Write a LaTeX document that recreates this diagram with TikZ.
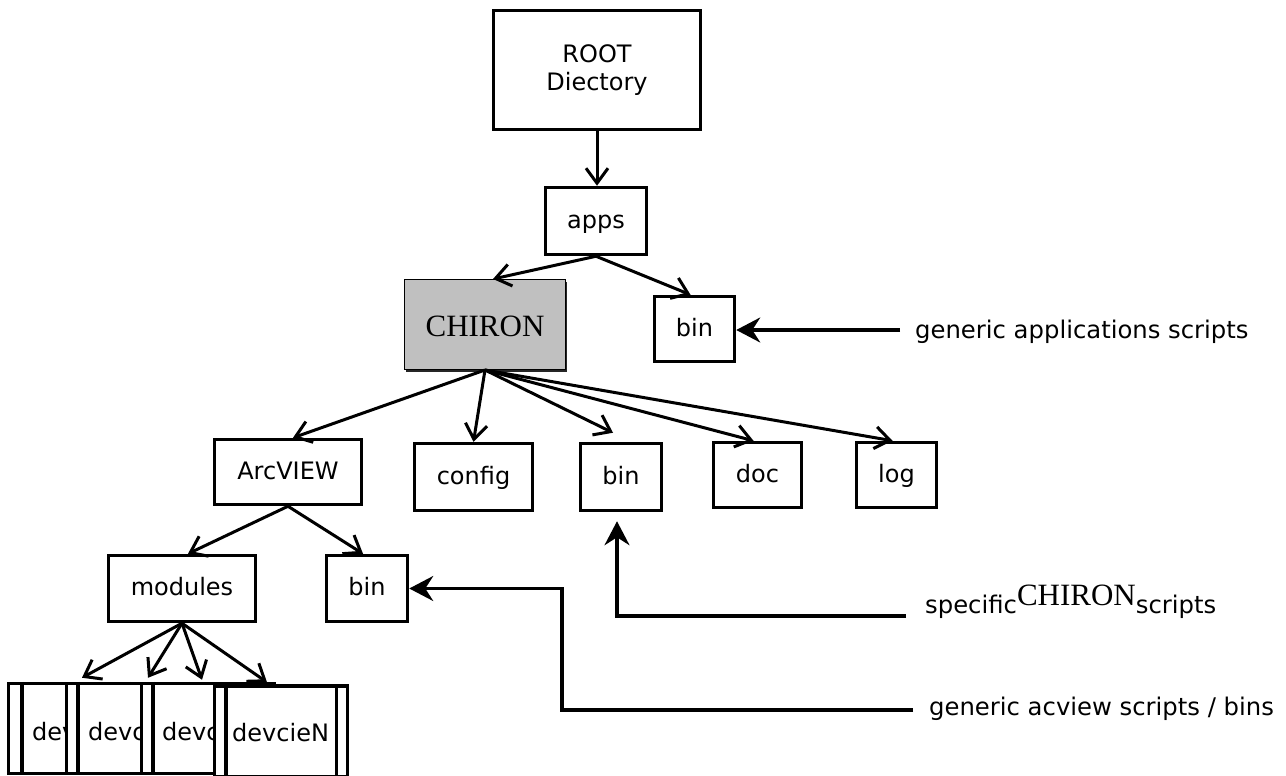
\documentclass[tikz,border=0pt]{standalone}
\usepackage{fontspec}
\setmainfont{DejaVu Sans}
\newfontfamily\serifchiron{Liberation Serif}
\usetikzlibrary{arrows.meta,shadows}
\definecolor{chirongray}{RGB}{192,192,192}
\begin{document}
\begin{tikzpicture}[x=1pt,y=-1pt,
  frame/.style={draw, line width=3.5pt, fill=white, inner sep=0pt, font=\fontsize{24}{28}\selectfont},
  box/.style={frame, text height=14pt, text depth=0pt},
  devbox/.style={frame, minimum width=133pt, minimum height=90pt},
  devtext/.style={font=\fontsize{24}{28}\selectfont, inner sep=0pt, anchor=base west},
  tree/.style={line width=3pt, line join=miter, -{Straight Barb[length=15pt,width=22pt]}},
  note/.style={line width=3.2pt, -{Stealth[length=24pt,width=25pt,inset=8pt]}},
  lbl/.style={font=\fontsize{24.3}{28}\selectfont, inner sep=0pt, anchor=base west},
  chironfont/.style={font=\serifchiron\fontsize{31}{36}\selectfont}
]
\useasboundingbox (0,0) rectangle (1286,776);

% main tree
\node[frame, minimum width=207pt, minimum height=119pt, align=center] (root) at (597,70) {ROOT\\Diectory};
\node[box, minimum width=101pt, minimum height=67pt] (apps) at (596,221) {apps};
\node[draw=black, line width=1pt, fill=chirongray, minimum width=161pt, minimum height=90pt,
      inner sep=0pt, chironfont, text height=23pt, text depth=0pt,
      drop shadow={shadow xshift=1pt, shadow yshift=-2.5pt, fill=black!85, opacity=1}] (chiron) at (485,324.5) {CHIRON};
\node[box, minimum width=80pt, minimum height=65pt] (binA) at (694.5,329) {bin};

\node[box, minimum width=147pt, minimum height=65pt] (arcview) at (288,472) {ArcVIEW};
\node[box, minimum width=118pt, minimum height=67pt] (config) at (473.5,477) {config};
\node[box, minimum width=81pt, minimum height=67pt] (binB) at (621,477) {bin};
\node[box, minimum width=88pt, minimum height=65pt] (doc) at (757.5,475) {doc};
\node[box, minimum width=80pt, minimum height=65pt] (log) at (896.5,475) {log};

\node[box, minimum width=147pt, minimum height=66pt] (modules) at (182,588.5) {modules};
\node[box, minimum width=81pt, minimum height=66pt] (binC) at (367,588.5) {bin};

% device boxes (overlapping, each one hides the tail of the previous)
\node[devbox] (dev1) at (75,728.5) {};
\draw[line width=3.5pt] ([xshift=15pt]dev1.north west) -- ([xshift=15pt]dev1.south west)
                      ([xshift=-14pt]dev1.north east) -- ([xshift=-14pt]dev1.south east);
\node[devtext] (t1) at (32,740) {dev};
\node[devbox] (dev2) at (133,728.5) {};
\draw[line width=3.5pt] ([xshift=13pt]dev2.north west) -- ([xshift=13pt]dev2.south west)
                      ([xshift=-13pt]dev2.north east) -- ([xshift=-13pt]dev2.south east);
\node[devtext] (t2) at (88,740) {devc};
\node[devbox] (dev3) at (208,728.5) {};
\draw[line width=3.5pt] ([xshift=13pt]dev3.north west) -- ([xshift=13pt]dev3.south west)
                      ([xshift=-13pt]dev3.north east) -- ([xshift=-13pt]dev3.south east);
\node[devtext] (t3) at (162,740) {devc};
\node[devbox, minimum height=91pt] (dev4) at (281,731.5) {};
\draw[line width=3.5pt] ([xshift=13pt]dev4.north west) -- ([xshift=13pt]dev4.south west)
                      ([xshift=-13pt]dev4.north east) -- ([xshift=-13pt]dev4.south east);
\node[devtext] (t4) at (232,741) {devcieN};

% tree connectors
\draw[tree] (root.south) -- (root.south |- apps.north);
\draw[tree] (apps.south) -- ([xshift=8pt]chiron.north);
\draw[tree] (apps.south) -- ([xshift=-4pt]binA.north);
\draw[tree] (chiron.south) -- ([xshift=5pt]arcview.north);
\draw[tree] (chiron.south) -- (config.north);
\draw[tree] (chiron.south) -- ([xshift=-8pt,yshift=9pt]binB.north);
\draw[tree] (chiron.south) -- ([xshift=-4pt]doc.north);
\draw[tree] (chiron.south) -- ([xshift=-4pt]log.north);
\draw[tree] (arcview.south) -- ([xshift=6pt]modules.north);
\draw[tree] (arcview.south) -- ([xshift=-4pt]binC.north);
\draw[tree] (modules.south) -- ([xshift=7pt,yshift=4pt]dev1.north);
\draw[tree] (modules.south) -- ([xshift=15pt,yshift=4pt]dev2.north);
\draw[tree] (modules.south) -- ([xshift=-6pt,yshift=2pt]dev3.north);
\draw[tree] (modules.south) -- ([xshift=-14pt,yshift=2pt]dev4.north);

% annotations
\node[lbl] (gapps) at (915,338) {generic applications scripts};
\coordinate (gappsend) at (900,330);
\draw[note] (gappsend) -- (gappsend -| binA.east);

\node[lbl] (spec) at (925,613) {specific\raisebox{8pt}{\serifchiron\fontsize{31}{36}\selectfont CHIRON}scripts};
\coordinate (specend) at (906,616);
\draw[note] (specend) -| ([xshift=-4pt,yshift=-9pt]binB.south);

\node[lbl] (garc) at (929,715) {generic acview scripts / bins};
\coordinate (garcend) at (913,710);
\coordinate (garccorner) at (562,710);
\draw[note] (garcend) -- (garccorner) |- (binC.east);
\end{tikzpicture}
\end{document}
